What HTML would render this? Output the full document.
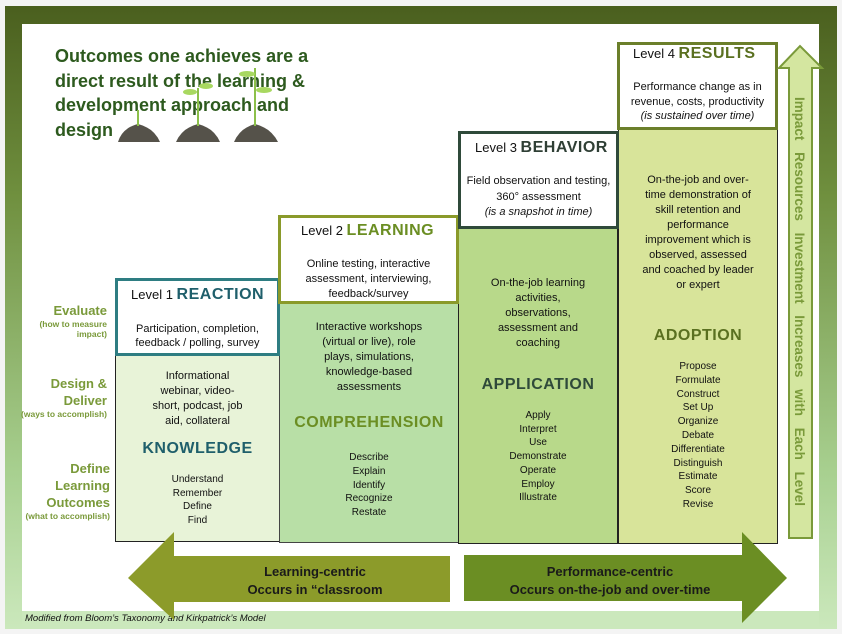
<!DOCTYPE html>
<html><head><meta charset="utf-8"><style>
*{margin:0;padding:0;box-sizing:border-box}
body{width:842px;height:634px;background:#f4f4f4;position:relative;overflow:hidden;font-family:"Liberation Sans",sans-serif;color:#111}
.a{position:absolute}
.c{text-align:center}
.frame{left:5px;top:6px;width:832px;height:623px;background:linear-gradient(#4a5f1e 0%,#6f8f3e 30%,#a8d090 75%,#cbe8bc 100%)}
.inner{left:22px;top:24px;width:797px;height:587px;background:#fff}
.box{background:#fff}
.lv{font-size:13px}
.lv b{font-size:16px;letter-spacing:.5px}
.t{font-size:11px;line-height:14px}
.h{font-weight:bold;font-size:16px;letter-spacing:.5px}
.lbl{color:#7a9a3a;font-weight:bold;text-align:right;font-size:13px;line-height:17px}
.lbl small{font-size:8.5px;line-height:10px;display:block}
</style></head><body>
<div class="a frame"></div>
<div class="a inner"></div>
<div class="a" style="left:22px;top:611px;width:797px;height:17px;background:#cbe8bc"></div>
<div class="a" style="left:25px;top:613px;font-size:9.5px;font-style:italic">Modified from Bloom’s Taxonomy and Kirkpatrick’s Model</div>

<div class="a" style="left:55px;top:44px;font-size:18px;line-height:24.5px;font-weight:bold;color:#2d5a1e;width:270px">Outcomes one achieves are a direct result of the learning &amp; development approach and design</div>
<svg class="a" style="left:110px;top:60px" width="180" height="85">
<g fill="#55524a"><path d="M8 82 Q12 68 28 64 Q44 68 50 82Z"/><path d="M66 82 Q72 68 88 64 Q104 68 110 82Z"/><path d="M124 82 Q130 68 145 64 Q161 68 168 82Z"/></g>
<g stroke="#8cc04a" stroke-width="2" fill="none"><path d="M28 66 V50"/><path d="M88 66 V28"/><path d="M145 66 V8"/></g>
<g fill="#a8d860"><ellipse cx="80" cy="32" rx="7" ry="3"/><ellipse cx="96" cy="26" rx="7" ry="3"/><ellipse cx="137" cy="14" rx="8" ry="3"/><ellipse cx="154" cy="30" rx="8" ry="3"/></g>
</svg>

<!-- columns -->
<div class="a" style="left:115px;top:355px;width:165px;height:187px;background:#e8f3d8;border:1px solid #222"></div>
<div class="a" style="left:279px;top:302px;width:180px;height:241px;background:#b8dfa6;border:1px solid #444"></div>
<div class="a" style="left:458px;top:228px;width:160px;height:316px;background:#b8d98a;border:1px solid #222"></div>
<div class="a" style="left:618px;top:128px;width:160px;height:416px;background:#d8e49a;border:1px solid #222"></div>

<!-- level boxes -->
<div class="a box" style="left:115px;top:278px;width:165px;height:78px;border:3px solid #2e7d82"></div>
<div class="a lv" style="left:131px;top:286px">Level 1 <b style="color:#1f5f6b">REACTION</b></div>
<div class="a t c" style="left:117px;top:322px;width:161px">Participation, completion, feedback / polling, survey</div>

<div class="a box" style="left:278px;top:215px;width:181px;height:89px;border:3px solid #8a9a2a"></div>
<div class="a lv" style="left:301px;top:222px">Level 2 <b style="color:#6b8e23">LEARNING</b></div>
<div class="a t c" style="left:281px;top:257px;width:175px;line-height:15px">Online testing, interactive assessment, interviewing, feedback/survey</div>

<div class="a box" style="left:458px;top:131px;width:161px;height:98px;border:3px solid #2f4a3a"></div>
<div class="a lv" style="left:475px;top:139px">Level 3 <b style="color:#2f3f35">BEHAVIOR</b></div>
<div class="a t c" style="left:461px;top:174px;width:155px;line-height:15.5px">Field observation and testing, 360° assessment<br><i>(is a snapshot in time)</i></div>

<div class="a box" style="left:617px;top:42px;width:161px;height:88px;border:3px solid #6b7f2a"></div>
<div class="a lv" style="left:633px;top:45px">Level 4 <b style="color:#5a7020">RESULTS</b></div>
<div class="a t c" style="left:619px;top:80px;width:157px;line-height:14.5px">Performance change as in revenue, costs, productivity<br><i>(is sustained over time)</i></div>

<!-- column contents -->
<div class="a t c" style="left:116px;top:369px;width:163px;line-height:15px">Informational<br>webinar, video-<br>short, podcast, job<br>aid, collateral</div>
<div class="a h c" style="left:116px;top:440px;width:163px;color:#1f5f6b">KNOWLEDGE</div>
<div class="a c" style="left:116px;top:473px;width:163px;font-size:10px;line-height:13.5px">Understand<br>Remember<br>Define<br>Find</div>

<div class="a t c" style="left:280px;top:320px;width:178px;line-height:15px">Interactive workshops<br>(virtual or live), role<br>plays, simulations,<br>knowledge-based<br>assessments</div>
<div class="a h c" style="left:280px;top:414px;width:178px;color:#6b8e23">COMPREHENSION</div>
<div class="a c" style="left:280px;top:451px;width:178px;font-size:10px;line-height:13.8px">Describe<br>Explain<br>Identify<br>Recognize<br>Restate</div>

<div class="a t c" style="left:459px;top:276px;width:158px;line-height:15px">On-the-job learning<br>activities,<br>observations,<br>assessment and<br>coaching</div>
<div class="a h c" style="left:459px;top:376px;width:158px;color:#2f4a3a">APPLICATION</div>
<div class="a c" style="left:459px;top:409px;width:158px;font-size:10px;line-height:13.7px">Apply<br>Interpret<br>Use<br>Demonstrate<br>Operate<br>Employ<br>Illustrate</div>

<div class="a t c" style="left:619px;top:173px;width:158px;line-height:15px">On-the-job and over-<br>time demonstration of<br>skill retention and<br>performance<br>improvement which is<br>observed, assessed<br>and coached by leader<br>or expert</div>
<div class="a h c" style="left:619px;top:327px;width:158px;color:#5a7020">ADOPTION</div>
<div class="a c" style="left:619px;top:360px;width:158px;font-size:10px;line-height:13.8px">Propose<br>Formulate<br>Construct<br>Set Up<br>Organize<br>Debate<br>Differentiate<br>Distinguish<br>Estimate<br>Score<br>Revise</div>

<!-- left labels -->
<div class="a lbl" style="left:20px;top:302px;width:87px">Evaluate<small>(how to measure<br>impact)</small></div>
<div class="a lbl" style="left:10px;top:375px;width:97px">Design &amp;<br>Deliver<small>(ways to accomplish)</small></div>
<div class="a lbl" style="left:10px;top:460px;width:100px">Define<br>Learning<br>Outcomes<small>(what to accomplish)</small></div>

<!-- arrows -->
<svg class="a" style="left:0;top:0" width="842" height="634">
<polygon points="128,578 174,532 174,556 450,556 450,602 174,602 174,620" fill="#8c9b2a"/>
<polygon points="464,555 742,555 742,532 787,578 742,623 742,601 464,601" fill="#6b8e23"/>
<polygon points="789,538 789,68 779,68 800,46 822,68 812,68 812,538" fill="#d4e6a0" stroke="#7a9a3a" stroke-width="2"/>
<text transform="translate(795,97) rotate(90)" font-family="Liberation Sans" font-size="13.5" font-weight="bold" fill="#7a9a3a" word-spacing="8" textLength="409" lengthAdjust="spacing" x="0" y="0">Impact Resources Investment Increases with Each Level</text>
</svg>
<div class="a c" style="left:200px;top:563px;width:230px;font-weight:bold;font-size:13px;line-height:18px;color:#1a1a1a">Learning-centric<br>Occurs in “classroom</div>
<div class="a c" style="left:480px;top:563px;width:260px;font-weight:bold;font-size:13px;line-height:18px;color:#1a1a1a">Performance-centric<br>Occurs on-the-job and over-time</div>
</body></html>
